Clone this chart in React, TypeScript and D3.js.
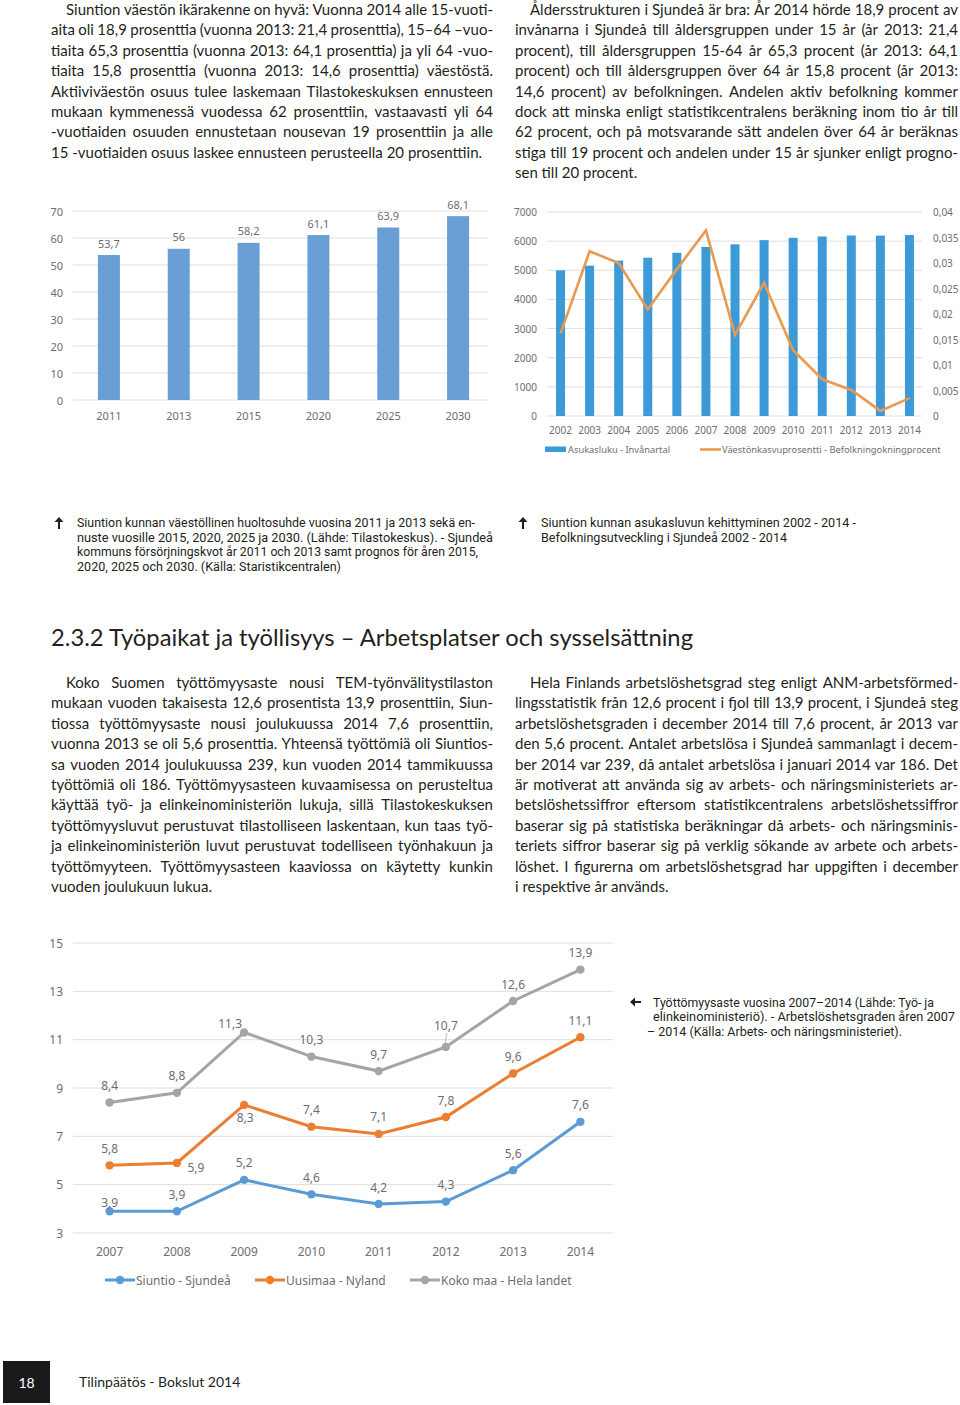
import React from 'react';
import * as d3 from 'd3';

// ---------- DATA ----------
const ratioYears = ['2011', '2013', '2015', '2020', '2025', '2030'];
const ratioValues = [53.7, 56, 58.2, 61.1, 63.9, 68.1];
const ratioTicks = [0, 10, 20, 30, 40, 50, 60, 70];

const popYears = ['2002', '2003', '2004', '2005', '2006', '2007', '2008', '2009', '2010', '2011', '2012', '2013', '2014'];
const popValues = [4998, 5160, 5330, 5430, 5600, 5800, 5890, 6035, 6115, 6160, 6195, 6190, 6210];
const growthValues = [0.0162, 0.0323, 0.03, 0.0209, 0.0288, 0.0364, 0.0159, 0.0261, 0.0129, 0.0072, 0.0051, 0.001, 0.0035];
const popTicks = [0, 1000, 2000, 3000, 4000, 5000, 6000, 7000];
const growthTicks = [0, 0.005, 0.01, 0.015, 0.02, 0.025, 0.03, 0.035, 0.04];
const popLegend = ['Asukasluku - Invånartal', 'Väestönkasvuprosentti - Befolkningokningprocent'];

const unempYears = ['2007', '2008', '2009', '2010', '2011', '2012', '2013', '2014'];
const siuntioValues = [3.9, 3.9, 5.2, 4.6, 4.2, 4.3, 5.6, 7.6];
const uusimaaValues = [5.8, 5.9, 8.3, 7.4, 7.1, 7.8, 9.6, 11.1];
const kokoMaaValues = [8.4, 8.8, 11.3, 10.3, 9.7, 10.7, 12.6, 13.9];
const unempTicks = [3, 5, 7, 9, 11, 13, 15];
const unempSeriesNames = ['Siuntio - Sjundeå', 'Uusimaa - Nyland', 'Koko maa - Hela landet'];
// label placement per point: a = above, c = close above, b = below, r = right-below, l = left-above, k = leader
const siuntioLabelPos = ['c', 'a', 'a', 'a', 'a', 'a', 'a', 'a'];
const uusimaaLabelPos = ['a', 'r', 'b', 'a', 'a', 'a', 'a', 'a'];
const kokoMaaLabelPos = ['a', 'a', 'l', 'a', 'a', 'k', 'a', 'a'];

// ---------- TEXT ----------
const paraTopFi = [
  'Siuntion väestön ikärakenne on hyvä: Vuonna 2014 alle 15-vuoti-',
  'aita oli 18,9 prosenttia (vuonna 2013: 21,4 prosenttia), 15–64 –vuo-',
  'tiaita 65,3 prosenttia (vuonna 2013: 64,1 prosenttia) ja yli 64 -vuo-',
  'tiaita 15,8 prosenttia (vuonna 2013: 14,6 prosenttia) väestöstä.',
  'Aktiiviväestön osuus tulee laskemaan Tilastokeskuksen ennusteen',
  'mukaan kymmenessä vuodessa 62 prosenttiin, vastaavasti yli 64',
  '-vuotiaiden osuuden ennustetaan nousevan 19 prosenttiin ja alle',
  '15 -vuotiaiden osuus laskee ennusteen perusteella 20 prosenttiin.',
];
const paraTopSv = [
  'Åldersstrukturen i Sjundeå är bra: År 2014 hörde 18,9 procent av',
  'invånarna i Sjundeå till åldersgruppen under 15 år (år 2013: 21,4',
  'procent), till åldersgruppen 15-64 år 65,3 procent (år 2013: 64,1',
  'procent) och till åldersgruppen över 64 år 15,8 procent (år 2013:',
  '14,6 procent) av befolkningen.  Andelen aktiv befolkning kommer',
  'dock att minska enligt statistikcentralens beräkning inom tio år till',
  '62 procent, och på motsvarande sätt andelen över 64 år beräknas',
  'stiga till 19 procent och andelen under 15 år sjunker enligt progno-',
  'sen till 20 procent.',
];
const paraBotFi = [
  'Koko Suomen työttömyysaste nousi TEM-työnvälitystilaston',
  'mukaan vuoden takaisesta 12,6 prosentista 13,9 prosenttiin, Siun-',
  'tiossa työttömyysaste nousi joulukuussa 2014 7,6 prosenttiin,',
  'vuonna 2013 se oli 5,6 prosenttia. Yhteensä työttömiä oli Siuntios-',
  'sa vuoden 2014 joulukuussa 239, kun vuoden 2014 tammikuussa',
  'työttömiä oli 186. Työttömyysasteen kuvaamisessa on perusteltua',
  'käyttää työ- ja elinkeinoministeriön lukuja, sillä Tilastokeskuksen',
  'työttömyysluvut perustuvat tilastolliseen laskentaan, kun taas työ-',
  'ja elinkeinoministeriön luvut perustuvat todelliseen työnhakuun ja',
  'työttömyyteen. Työttömyysasteen kaaviossa on käytetty kunkin',
  'vuoden joulukuun lukua.',
];
const paraBotSv = [
  'Hela Finlands arbetslöshetsgrad steg enligt ANM-arbetsförmed-',
  'lingsstatistik från 12,6 procent i fjol till 13,9 procent, i Sjundeå steg',
  'arbetslöshetsgraden i december 2014 till 7,6 procent, år 2013 var',
  'den 5,6 procent. Antalet arbetslösa i Sjundeå sammanlagt i decem-',
  'ber 2014 var 239, då antalet arbetslösa i januari 2014 var 186. Det',
  'är motiverat att använda sig av arbets- och näringsministeriets ar-',
  'betslöshetssiffror eftersom statistikcentralens arbetslöshetssiffror',
  'baserar sig på statistiska beräkningar då arbets- och näringsminis-',
  'teriets siffror baserar sig på verklig sökande av arbete och arbets-',
  'löshet. I figurerna om arbetslöshetsgrad har uppgiften i december',
  'i respektive år används.',
];
const caption1 = [
  'Siuntion kunnan väestöllinen huoltosuhde vuosina 2011 ja 2013 sekä en-',
  'nuste vuosille 2015, 2020, 2025 ja 2030. (Lähde: Tilastokeskus). - Sjundeå',
  'kommuns försörjningskvot år 2011 och 2013 samt prognos för åren 2015,',
  '2020, 2025 och 2030. (Källa: Staristikcentralen)',
];
const caption1W = [398, 416, 401, 264];
const caption2 = ['Siuntion kunnan asukasluvun kehittyminen 2002 - 2014 -', 'Befolkningsutveckling i Sjundeå 2002 - 2014'];
const caption2W = [315, 246];
const caption3 = [
  'Työttömyysaste vuosina 2007–2014 (Lähde: Työ- ja',
  'elinkeinoministeriö). - Arbetslöshetsgraden åren 2007',
  '– 2014 (Källa: Arbets- och näringsministeriet).',
];
const caption3W = [281, 302, 255];
const heading = '2.3.2 Työpaikat ja työllisyys – Arbetsplatser och sysselsättning';

// ---------- HELPERS ----------
const BODY_FONT = 'Lato';
const BODY_SIZE = 15;
let ctx: CanvasRenderingContext2D | null = null;
function measure(t: string, font: string) {
  if (!ctx) ctx = document.createElement('canvas').getContext('2d');
  ctx!.font = font;
  return ctx!.measureText(t).width;
}

function Paragraph({ lines, x, right, y0, lh, indent }: any) {
  const font = `${BODY_SIZE}px ${BODY_FONT}`;
  return (
    <g fontFamily={BODY_FONT} fontSize={BODY_SIZE} fill="#231f20">
      {lines.map((line: string, i: number) => {
        const lx = i === 0 ? x + indent : x;
        const y = y0 + i * lh;
        const last = i === lines.length - 1;
        const words = line.split(/\s+/).filter(Boolean);
        if (last || words.length < 2) {
          return (
            <text key={i} x={lx} y={y}>
              {line}
            </text>
          );
        }
        const ws = words.map((w) => measure(w, font));
        const gap = (right - lx - d3.sum(ws)) / (words.length - 1);
        let cx = lx;
        return (
          <text key={i} y={y}>
            {words.map((w, j) => {
              const el = (
                <tspan key={j} x={cx}>
                  {w}
                </tspan>
              );
              cx += ws[j] + gap;
              return el;
            })}
          </text>
        );
      })}
    </g>
  );
}

function Caption({ lines, widths, x, y0, lh, size = 13, firstDx = [] as number[] }: any) {
  return (
    <g fontFamily="Roboto" fontSize={size} fill="#231f20">
      {lines.map((l: string, i: number) => (
        <text key={i} x={x + (firstDx[i] || 0)} y={y0 + i * lh} textLength={widths[i]} lengthAdjust="spacingAndGlyphs">
          {l}
        </text>
      ))}
    </g>
  );
}

function UpArrow({ x, y }: any) {
  return (
    <g stroke="#231f20" fill="#231f20">
      <line x1={x} y1={y + 6} x2={x} y2={y - 3} strokeWidth={2} />
      <path d={`M${x - 4.5},${y - 1} L${x},${y - 6} L${x + 4.5},${y - 1} Z`} stroke="none" />
    </g>
  );
}
function LeftArrow({ x, y }: any) {
  return (
    <g stroke="#231f20" fill="#231f20">
      <line x1={x + 11} y1={y} x2={x + 3} y2={y} strokeWidth={2} />
      <path d={`M${x + 5},${y - 4.5} L${x},${y} L${x + 5},${y + 4.5} Z`} stroke="none" />
    </g>
  );
}

const comma = (v: number) => String(v).replace('.', ',');
const AXIS = '#6e6e6e';
const GRID = '#dedede';
const CHART_FONT = 'Noto Sans';

// ---------- CHART 1 ----------
function RatioChart() {
  const x = d3.scalePoint<string>().domain(ratioYears).range([74, 493]).padding(0.5);
  const y = d3.scaleLinear().domain([0, 70]).range([400, 211]);
  const bw = 22;
  return (
    <g fontFamily={CHART_FONT} fontSize={11} fill={AXIS}>
      {ratioTicks.map((t) => (
        <g key={t}>
          <line x1={73} x2={488} y1={y(t)} y2={y(t)} stroke={GRID} strokeWidth={1} />
          <text x={63} y={y(t)} textAnchor="end" dominantBaseline="central">
            {t}
          </text>
        </g>
      ))}
      {ratioYears.map((yr, i) => (
        <g key={yr}>
          <rect x={x(yr)! - bw / 2} y={y(ratioValues[i])} width={bw} height={y(0) - y(ratioValues[i])} fill="#6a9fd6" />
          <text x={x(yr)} y={y(ratioValues[i]) - 12} textAnchor="middle" dominantBaseline="central">
            {comma(ratioValues[i])}
          </text>
          <text x={x(yr)} y={415} textAnchor="middle" dominantBaseline="central">
            {yr}
          </text>
        </g>
      ))}
    </g>
  );
}

// ---------- CHART 2 ----------
function PopChart() {
  const x = d3.scalePoint<string>().domain(popYears).range([546, 924]).padding(0.5);
  const yL = d3.scaleLinear().domain([0, 7000]).range([416, 212]);
  const yR = d3.scaleLinear().domain([0, 0.04]).range([416, 212]);
  const bw = 9;
  const line = d3
    .line<number>()
    .x((_, i) => x(popYears[i])!)
    .y((d) => yR(d));
  return (
    <g fontFamily={CHART_FONT} fontSize={10} fill={AXIS}>
      {popTicks.map((t) => (
        <g key={t}>
          <line x1={547} x2={922} y1={yL(t)} y2={yL(t)} stroke={GRID} />
          <text x={537} y={yL(t)} textAnchor="end" dominantBaseline="central">
            {t}
          </text>
        </g>
      ))}
      {growthTicks.map((t) => (
        <text key={t} x={933} y={yR(t)} dominantBaseline="central">
          {comma(+t.toFixed(3))}
        </text>
      ))}
      {popYears.map((yr, i) => (
        <g key={yr}>
          <rect x={x(yr)! - bw / 2} y={yL(popValues[i])} width={bw} height={yL(0) - yL(popValues[i])} fill="#3d9ad8" />
          <text x={x(yr)} y={430} textAnchor="middle" dominantBaseline="central">
            {yr}
          </text>
        </g>
      ))}
      <path d={line(growthValues)!} fill="none" stroke="#ea9a4e" strokeWidth={2.6} strokeLinejoin="miter" />
      <rect x={545} y={446.5} width={21} height={5.5} fill="#3d9ad8" />
      <text x={568} y={449.5} fontSize={9.3} dominantBaseline="central">
        {popLegend[0]}
      </text>
      <line x1={700} x2={721} y1={449.5} y2={449.5} stroke="#ea9a4e" strokeWidth={2.6} />
      <text x={722} y={449.5} fontSize={9.3} dominantBaseline="central">
        {popLegend[1]}
      </text>
    </g>
  );
}

// ---------- CHART 3 ----------
function UnempChart() {
  const x = d3.scalePoint<string>().domain(unempYears).range([76, 614]).padding(0.5);
  const y = d3.scaleLinear().domain([3, 15]).range([1233, 943]);
  const series = [
    { vals: siuntioValues, color: '#5b9bd5', pos: siuntioLabelPos },
    { vals: uusimaaValues, color: '#ed7d31', pos: uusimaaLabelPos },
    { vals: kokoMaaValues, color: '#a5a5a5', pos: kokoMaaLabelPos },
  ];
  const line = d3
    .line<number>()
    .x((_, i) => x(unempYears[i])!)
    .y((d) => y(d));
  const offs: Record<string, [number, number]> = {
    a: [0, -17],
    c: [0, -9],
    b: [1, 13],
    r: [19, 5],
    l: [-14, -9],
    k: [0, -21],
  };
  const legendX = [105, 255, 410];
  return (
    <g fontFamily={CHART_FONT} fontSize={12} fill={AXIS}>
      {unempTicks.map((t) => (
        <g key={t}>
          <line x1={73} x2={613} y1={y(t)} y2={y(t)} stroke={GRID} />
          <text x={63} y={y(t)} textAnchor="end" dominantBaseline="central">
            {t}
          </text>
        </g>
      ))}
      {unempYears.map((yr) => (
        <text key={yr} x={x(yr)} y={1251} textAnchor="middle" dominantBaseline="central">
          {yr}
        </text>
      ))}
      {series.map((s, si) => (
        <g key={si}>
          <path d={line(s.vals)!} fill="none" stroke={s.color} strokeWidth={3} />
          {s.vals.map((v, i) => (
            <circle key={i} cx={x(unempYears[i])} cy={y(v)} r={4.2} fill={s.color} />
          ))}
        </g>
      ))}
      {series.map((s, si) => (
        <g key={'l' + si}>
          {s.vals.map((v, i) => {
            const [dx, dy] = offs[s.pos[i]];
            const px = x(unempYears[i])!;
            const py = y(v);
            return (
              <g key={i}>
                {s.pos[i] === 'k' && <line x1={px + 1} y1={py + dy + 7} x2={px - 1} y2={py - 3} stroke="#a5a5a5" strokeWidth={0.8} />}
                <text x={px + dx} y={py + dy} textAnchor="middle" dominantBaseline="central">
                  {comma(v)}
                </text>
              </g>
            );
          })}
        </g>
      ))}
      {series.map((s, si) => (
        <g key={'lg' + si}>
          <line x1={legendX[si]} x2={legendX[si] + 30} y1={1280} y2={1280} stroke={s.color} strokeWidth={3} />
          <circle cx={legendX[si] + 15} cy={1280} r={4.2} fill={s.color} />
          <text x={legendX[si] + 31} y={1280} dominantBaseline="central">
            {unempSeriesNames[si]}
          </text>
        </g>
      ))}
    </g>
  );
}

export default function App() {
  return (
    <svg width={960} height={1405} viewBox="0 0 960 1405" style={{ position: 'absolute', left: 0, top: 0, background: '#fff' }}>
      <rect x={0} y={0} width={960} height={1405} fill="#fff" />
      <Paragraph lines={paraTopFi} x={51} right={493} y0={15} lh={20.4} indent={15} />
      <Paragraph lines={paraTopSv} x={515} right={958} y0={15} lh={20.4} indent={15} />
      <RatioChart />
      <PopChart />
      <UpArrow x={59} y={523} />
      <Caption lines={caption1} widths={caption1W} x={77} y0={527} lh={14.5} />
      <UpArrow x={523} y={523} />
      <Caption lines={caption2} widths={caption2W} x={541} y0={527} lh={14.5} />
      <text x={51} y={646} fontFamily={BODY_FONT} fontSize={24} fill="#231f20" textLength={642} lengthAdjust="spacingAndGlyphs">
        {heading}
      </text>
      <Paragraph lines={paraBotFi} x={51} right={493} y0={688} lh={20.4} indent={15} />
      <Paragraph lines={paraBotSv} x={515} right={958} y0={688} lh={20.4} indent={15} />
      <UnempChart />
      <LeftArrow x={630} y={1002} />
      <Caption lines={caption3} widths={caption3W} x={653} y0={1006.5} lh={14.5} size={12.3} firstDx={[0, 0, -6]} />
      <rect x={3} y={1361} width={47} height={42} fill="#1a1a1a" />
      <text x={26.5} y={1382} textAnchor="middle" dominantBaseline="central" fontFamily={BODY_FONT} fontSize={14} fill="#fff">
        18
      </text>
      <text x={79} y={1387} fontFamily={BODY_FONT} fontSize={14} fill="#231f20">
        Tilinpäätös - Bokslut 2014
      </text>
    </svg>
  );
}
